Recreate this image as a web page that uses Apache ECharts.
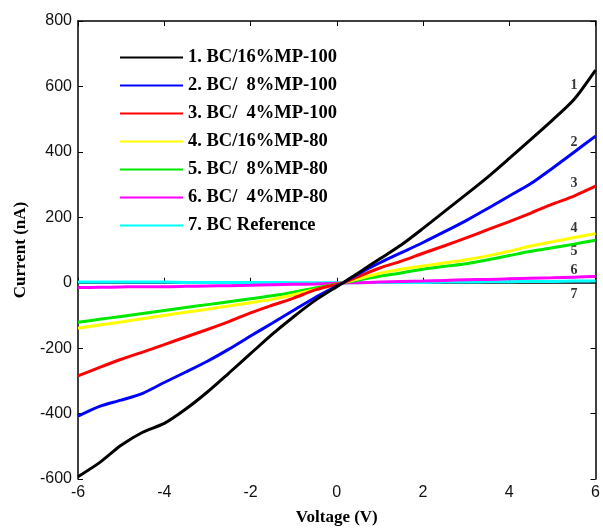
<!DOCTYPE html>
<html><head><meta charset="utf-8">
<script src="https://cdn.jsdelivr.net/npm/echarts@6/dist/echarts.min.js"></script>
<style>html,body{margin:0;padding:0;background:#fff}#c{width:603px;height:531px}</style>
</head><body><div id="c"></div>
<script>
var voltage = [-6,-5.5,-5,-4.5,-4,-3.5,-3,-2.5,-2,-1.5,-1,-0.5,0,0.15,0.5,1,1.5,2,2.5,3,3.5,4,4.5,5,5.5,6];
var s1 = [-593,-550,-497,-457,-430,-386,-334,-276,-217,-158,-104,-54,-12,0,30,73,116,166,218,270,323,380,438,497,560,650];
var s2 = [-408,-378,-359,-338,-305,-273,-240,-203,-163,-124,-84,-45,-10,0,27,61,92,123,156,190,227,265,303,350,399,448];
var s3 = [-285,-259,-234,-212,-189,-166,-143,-119,-92,-69,-47,-22,-5,0,19,45,66,90,113,137,162,187,213,240,265,295];
var s4 = [-139,-129,-120,-110,-100,-90,-81,-71,-61,-51,-37,-21,-5,0,12,29,41,51,60,70,82,96,112,125,138,150];
var s5 = [-121,-112,-103,-94,-85,-76,-67,-58,-49,-40,-29,-16,-4,0,8,20,30,41,50,58,70,83,96,107,118,130];
var s6 = [-15,-14,-13,-12,-12,-11,-10,-9,-8,-6,-5,-4,-2,-1,0,2,4,5,7,9,10,12,14,15,17,19];
var s7 = [2,2,2,2,2,1,1,1,1,1,0,0,0,0,0,1,1,1,2,2,3,3,4,4,5,5];
var names = ['1. BC/16%MP-100','2. BC/  8%MP-100','3. BC/  4%MP-100','4. BC/16%MP-80','5. BC/  8%MP-80','6. BC/  4%MP-80','7. BC Reference'];
var colors = ['#000000','#0000ff','#ff0000','#ffff00','#00e800','#ff00ff','#00ffff'];
var endLabels = ['1','2','3','4','5','6','7'];
var endLabelV = [5.5,5.5,5.5,5.5,5.5,5.5,5.5];
var endLabelI = [604,429,305,166,96,39,-36];

var all = [s1,s2,s3,s4,s5,s6,s7];
var series = all.map(function(arr,i){
  return {name:names[i],type:'line',showSymbol:false,symbol:'none',smooth:0.25,
    data:voltage.map(function(v,k){return [v,arr[k]];}),
    lineStyle:{color:colors[i],width:3},itemStyle:{color:colors[i]},z:10-i,animation:false};
});
series.push({type:'scatter',symbolSize:0,silent:true,animation:false,
  data:endLabels.map(function(t,i){return {value:[endLabelV[i],endLabelI[i]],name:t};}),
  label:{show:true,position:'inside',formatter:'{b}',fontFamily:'Liberation Serif',fontWeight:'bold',fontSize:14,color:'#000'}});

var axLabel = {fontFamily:'Liberation Sans',fontSize:16,color:'#111'};
var chart = echarts.init(document.getElementById('c'),null,{renderer:'canvas'});
chart.setOption({
  animation:false,
  grid:{left:78,right:5,top:21,bottom:47},
  legend:{orient:'vertical',left:115,top:43,itemWidth:63,itemHeight:2,itemGap:9,icon:'rect',
    data:names,textStyle:{fontFamily:'Liberation Serif',fontWeight:'bold',fontSize:18.5,color:'#000'},selectedMode:false},
  xAxis:[{type:'value',min:-6,max:6,interval:2,
    name:'Voltage (V)',nameLocation:'middle',nameGap:30,
    nameTextStyle:{fontFamily:'Liberation Serif',fontWeight:'bold',fontSize:17,color:'#000'},
    axisLine:{show:true,lineStyle:{color:'#000',width:1.5}},axisTick:{show:true,inside:true,length:5,lineStyle:{color:'#000'}},
    axisLabel:Object.assign({margin:6},axLabel),splitLine:{show:false}},
    {type:'value',position:'top',min:-6,max:6,interval:2,axisLine:{show:true,onZero:false,lineStyle:{color:'#000',width:1.5}},
    axisTick:{show:true,inside:true,length:5,lineStyle:{color:'#000'}},axisLabel:{show:false},splitLine:{show:false}}],
  yAxis:[{type:'value',min:-600,max:800,interval:200,
    name:'Current (nA)',nameLocation:'middle',nameGap:49,
    nameTextStyle:{fontFamily:'Liberation Serif',fontWeight:'bold',fontSize:17,color:'#000'},
    axisLine:{show:true,onZero:false,lineStyle:{color:'#000',width:1.5}},axisTick:{show:true,inside:true,length:5,lineStyle:{color:'#000'}},
    axisLabel:Object.assign({margin:6},axLabel),splitLine:{show:false}},
    {type:'value',position:'right',min:-600,max:800,interval:200,axisLine:{show:true,onZero:false,lineStyle:{color:'#000',width:1.5}},
    axisTick:{show:true,inside:true,length:5,lineStyle:{color:'#000'}},axisLabel:{show:false},splitLine:{show:false}}],
  series:series
});
</script></body></html>
